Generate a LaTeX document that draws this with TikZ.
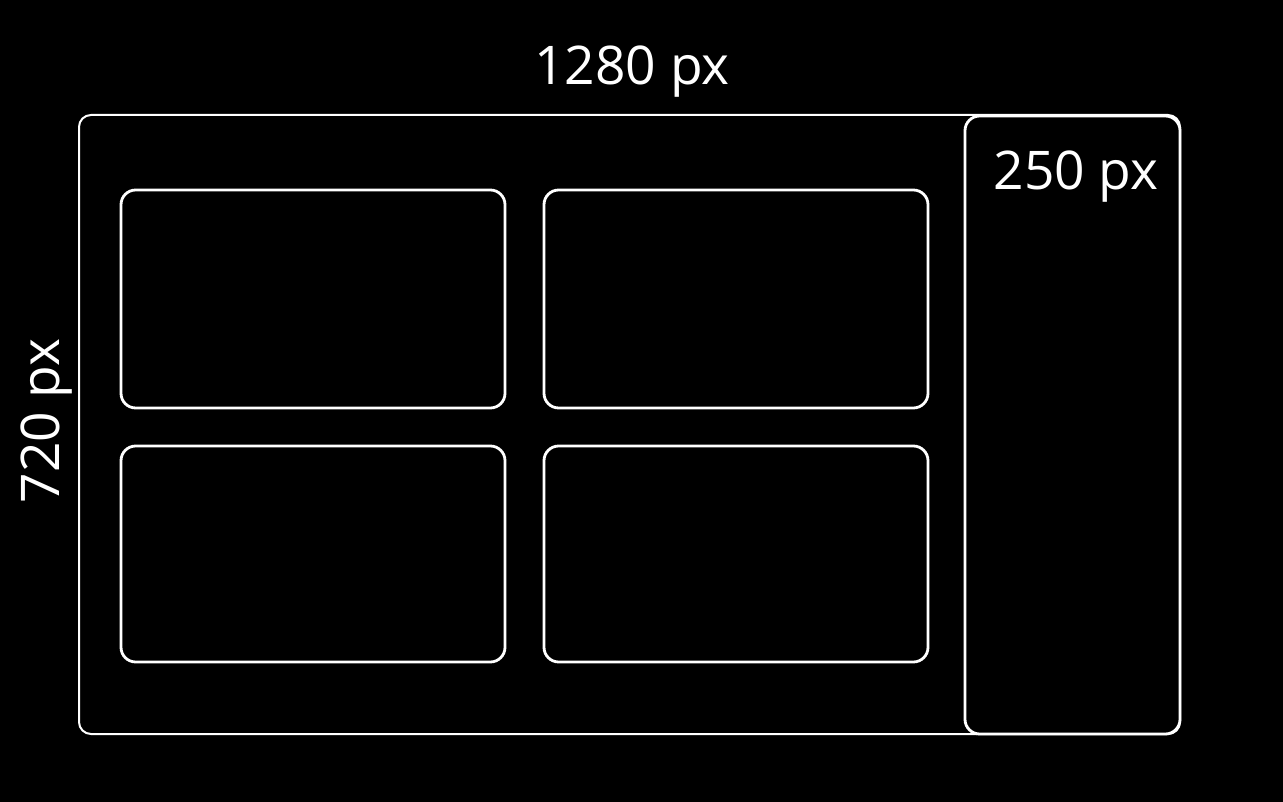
\documentclass[tikz,border=0pt]{standalone}
\usepackage{fontspec}
\setmainfont{Open Sans}
\begin{document}
\begin{tikzpicture}[x=0.75pt,y=0.75pt,yscale=-1,xscale=1,
  frame/.style={draw=white,line width=1.5pt,rounded corners=9pt},
  tile/.style={draw=white,line width=2.1pt,rounded corners=11pt},
  dimlabel/.style={text=white,inner sep=0pt,anchor=base,font=\fontsize{40}{48}\selectfont}]
%Shape: Background
\fill[black] (0,0) rectangle (1283,802);
\useasboundingbox (0,0) rectangle (1283,802);

%Shape: Rectangle (outer screen)
\draw[frame] (79,115) rectangle (1180,734);
%Shape: Rectangle (side panel)
\draw[tile,fill=black] (965,116) rectangle (1180,734);

%Shape: Rectangle (tiles)
\draw[tile] (121,190) rectangle (505,408);
\draw[tile] (544,190) rectangle (928,408);
\draw[tile] (121,446) rectangle (505,662);
\draw[tile] (544,446) rectangle (928,662);

% Text Node
\node[dimlabel] (width) at (632,85) {1280 px};
% Text Node
\node[dimlabel] (panelw) at (1076,190) {250 px};
% Text Node
\node[dimlabel,rotate=90] (height) at (60,421) {720 px};

\end{tikzpicture}
\end{document}
